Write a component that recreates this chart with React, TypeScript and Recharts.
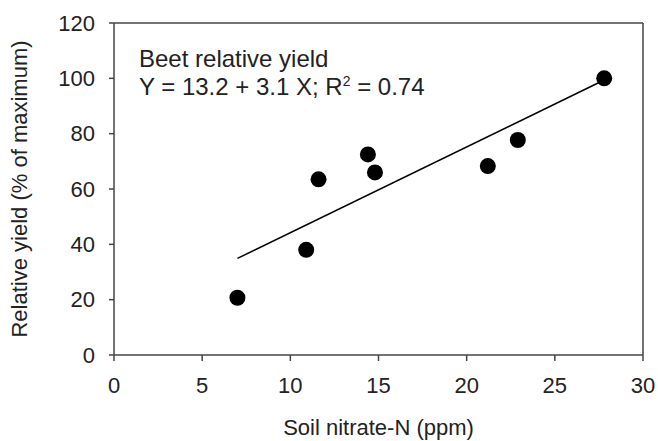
import {
  ScatterChart,
  Scatter,
  XAxis,
  YAxis,
  ReferenceLine,
} from 'recharts';

// Soil nitrate-N (ppm) and beet relative yield (% of maximum)
const nitrate = [7.0, 10.9, 11.6, 14.4, 14.8, 21.2, 22.9, 27.8];
const relYield = [20.7, 38.0, 63.5, 72.5, 66.0, 68.3, 77.7, 100.0];

// regression line ends, Y = 13.2 + 3.1 X
const fitX = [7.0, 27.8];
const fitY = [34.9, 99.4];

const xTicks = [0, 5, 10, 15, 20, 25, 30];
const yTicks = [0, 20, 40, 60, 80, 100, 120];

const points = nitrate.map((x, i) => ({ x, y: relYield[i] }));
const fitLine = fitX.map((x, i) => ({ x, y: fitY[i] }));

const FONT = '"Liberation Sans", Arial, sans-serif';
const axisColor = '#444';
const textColor = '#222';

const Dot = (props: any) => (
  <circle cx={props.cx} cy={props.cy} r={8} fill="#000" />
);

export default function App() {
  // fixed so the page never scrolls (body margin would push it past 441px)
  return (
    <div
      style={{
        position: 'fixed',
        left: 0,
        top: 0,
        width: 658,
        height: 441,
        fontFamily: FONT,
        background: '#fff',
      }}
    >
      <ScatterChart
        width={658}
        height={441}
        margin={{ top: 23, right: 15, bottom: 56, left: 0 }}
        style={{ fontFamily: FONT }}
      >
        <XAxis
          type="number"
          dataKey="x"
          domain={[0, 30]}
          ticks={xTicks}
          height={30}
          tickSize={6}
          tickMargin={16}
          stroke={axisColor}
          strokeWidth={1.5}
          tick={{ fill: textColor, fontSize: 22 }}
          label={{
            value: 'Soil nitrate-N (ppm)',
            position: 'bottom',
            offset: 34,
            fill: textColor,
            fontSize: 22,
          }}
        />
        <YAxis
          type="number"
          dataKey="y"
          domain={[0, 120]}
          ticks={yTicks}
          width={114}
          tickSize={5}
          tickMargin={14}
          stroke={axisColor}
          strokeWidth={1.5}
          tick={{ fill: textColor, fontSize: 22 }}
          label={{
            value: 'Relative yield (% of maximum)',
            angle: -90,
            position: 'insideLeft',
            offset: 19,
            fill: textColor,
            fontSize: 22,
            style: { textAnchor: 'middle' },
          }}
        />
        <ReferenceLine y={120} stroke={axisColor} strokeWidth={1.5} />
        <ReferenceLine x={30} stroke={axisColor} strokeWidth={1.5} />
        <Scatter
          data={fitLine}
          line={{ stroke: '#000', strokeWidth: 1.5 }}
          shape={() => <g />}
          isAnimationActive={false}
        />
        <Scatter data={points} shape={Dot} isAnimationActive={false} />
      </ScatterChart>
      <div
        style={{
          position: 'absolute',
          left: 139,
          top: 45,
          fontSize: 24,
          lineHeight: '28px',
          color: textColor,
          whiteSpace: 'nowrap',
        }}
      >
        <div>Beet relative yield</div>
        <div>
          Y = 13.2 + 3.1 X; R
          <sup style={{ fontSize: 14, lineHeight: 0 }}>2</sup> = 0.74
        </div>
      </div>
    </div>
  );
}
